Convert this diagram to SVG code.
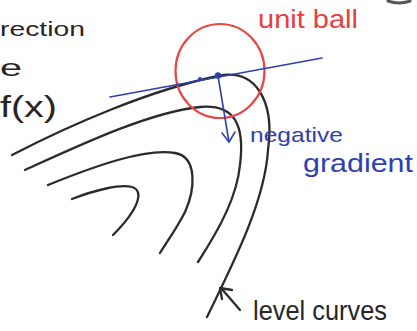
<svg xmlns="http://www.w3.org/2000/svg" width="417" height="331" viewBox="0 0 417 331">
<style>
.lc{fill:none;stroke:#2b2b2b;stroke-width:2.3;stroke-linecap:round;stroke-linejoin:round}
.bl{fill:none;stroke:#2f3fae;stroke-width:1.6;stroke-linecap:round;stroke-linejoin:round}
.t{font-family:"Liberation Sans",Arial,sans-serif}
.k{fill:#262626}
.b{fill:#3040b0}
.r{fill:#e8403f}
</style>
<rect width="417" height="331" fill="#ffffff"/>
<g id="left-text">
<text class="t k" x="0" y="36" font-size="21" textLength="85" lengthAdjust="spacingAndGlyphs">rection</text>
<text class="t k" x="0" y="76" font-size="24" textLength="22" lengthAdjust="spacingAndGlyphs">e</text>
<text class="t k" x="0" y="117" font-size="29" textLength="57" lengthAdjust="spacingAndGlyphs">f(x)</text>
</g>
<path d="M388,1 Q399,5 410,1" fill="none" stroke="#555" stroke-width="3" stroke-linecap="round"/>
<g id="level-curves">
<path class="lc" d="M12,155 C70,125 150,90 218,76 C255,68 275,100 268,150 C265,200 235,260 207,317"/>
<path class="lc" d="M25,170 C80,145 150,112 200,107 C235,104 245,125 240,165 C237,195 222,225 198,262"/>
<path class="lc" d="M48,185 C95,166 145,148 175,153 C198,157 195,190 185,212 C177,228 168,240 160,253"/>
<path class="lc" d="M72,199 C95,190 120,184 132,187 C145,191 138,210 113,235"/>
</g>
<g id="unit-ball">
<ellipse cx="220" cy="71" rx="44.5" ry="47" fill="none" stroke="#e84545" stroke-width="2.2"/>
<text class="t r" x="258" y="28" font-size="25" textLength="100" lengthAdjust="spacingAndGlyphs">unit ball</text>
</g>
<g id="tangent">
<line class="bl" x1="110" y1="97" x2="322" y2="58"/>
<circle cx="200" cy="79" r="2" fill="#2f3fae"/>
<circle cx="218" cy="75.5" r="3.2" fill="#2f3fae"/>
</g>
<g id="connectors">
<line class="bl" x1="218" y1="76" x2="229" y2="142" stroke-width="2"/>
<polyline class="bl" points="222,133 229,142 235,132" stroke-width="2"/>
<line class="lc" x1="240" y1="310" x2="221" y2="288"/>
<polyline class="lc" points="222,299 220,288 232,290"/>
</g>
<g id="labels">
<text class="t b" x="250" y="142" font-size="21" textLength="93" lengthAdjust="spacingAndGlyphs">negative</text>
<text class="t b" x="303" y="172" font-size="25" textLength="110" lengthAdjust="spacingAndGlyphs">gradient</text>
<text class="t k" x="253" y="320" font-size="28" textLength="134" lengthAdjust="spacingAndGlyphs">level curves</text>
</g>
</svg>
